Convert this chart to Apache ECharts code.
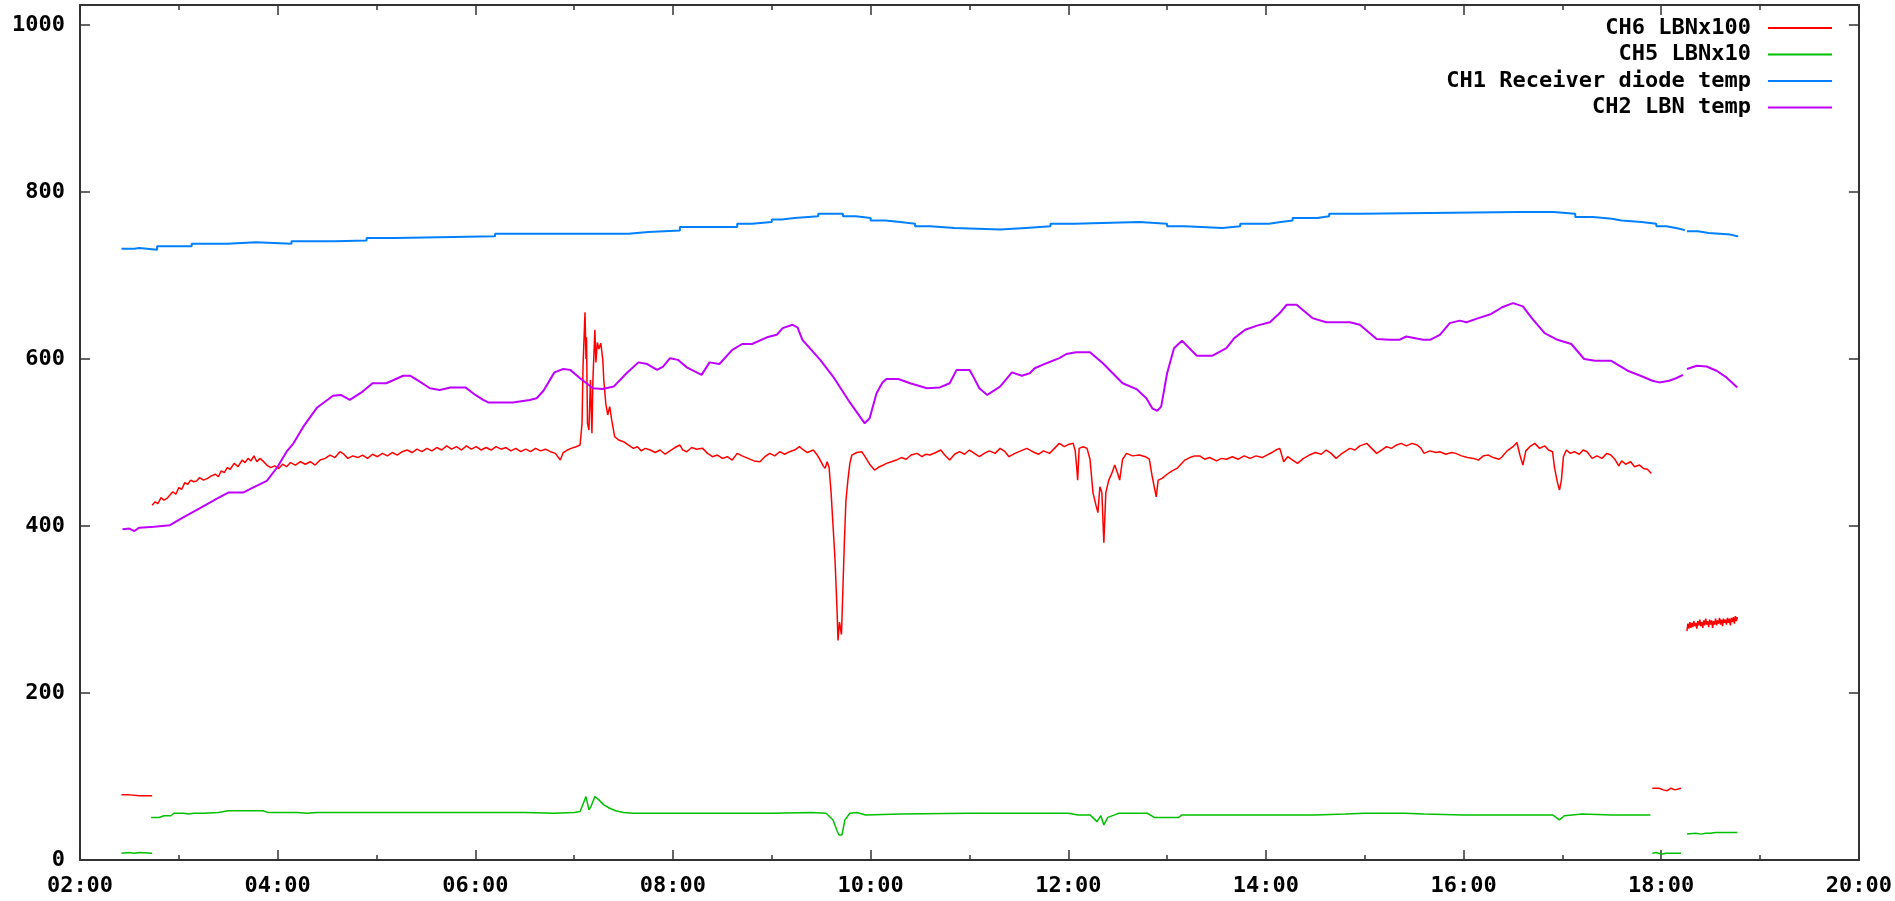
<!DOCTYPE html>
<html><head><meta charset="utf-8">
<script src="https://cdn.jsdelivr.net/npm/echarts@6/dist/echarts.min.js"></script>
<style>html,body{margin:0;padding:0;background:#fff}#c{width:1895px;height:901px}</style>
</head><body><div id="c"></div>
<script>
// ---- data (x = hour of day, y = raw value) ----
const seriesNames = ['CH6 LBNx100', 'CH5 LBNx10', 'CH1 Receiver diode temp', 'CH2 LBN temp'];
const yTickValues = [0, 200, 400, 600, 800, 1000];
const xTickHours = [2, 4, 6, 8, 10, 12, 14, 16, 18, 20];

const ch6Start = [[2.42,78],[2.5,78],[2.6,77],[2.73,77]];
const ch6Main = [[2.73,425],[2.76,429],[2.79,427],[2.82,434],[2.85,431],[2.88,433],[2.91,437],[2.94,441],[2.97,438],[3.0,446],[3.03,444],[3.06,452],[3.09,450],[3.12,455],[3.15,453],[3.18,454],[3.21,458],[3.25,455],[3.29,457],[3.33,460],[3.37,462],[3.4,459],[3.43,466],[3.46,464],[3.49,470],[3.52,468],[3.56,475],[3.6,471],[3.64,479],[3.67,476],[3.7,481],[3.73,478],[3.76,484],[3.79,477],[3.82,481],[3.85,478],[3.89,473],[3.93,470],[3.97,472],[4.01,469],[4.05,474],[4.09,471],[4.13,476],[4.18,473],[4.23,477],[4.28,474],[4.33,477],[4.38,473],[4.43,479],[4.48,481],[4.53,485],[4.58,482],[4.63,489],[4.67,486],[4.71,481],[4.76,484],[4.81,482],[4.86,485],[4.91,481],[4.96,486],[5.01,483],[5.06,487],[5.11,484],[5.16,488],[5.21,485],[5.26,489],[5.31,491],[5.36,488],[5.41,492],[5.46,489],[5.51,493],[5.56,490],[5.61,494],[5.66,491],[5.71,496],[5.76,492],[5.81,495],[5.86,491],[5.91,496],[5.96,492],[6.01,495],[6.06,491],[6.11,494],[6.16,491],[6.21,495],[6.26,492],[6.31,494],[6.36,490],[6.41,493],[6.46,489],[6.51,492],[6.56,489],[6.61,493],[6.66,490],[6.71,492],[6.76,489],[6.81,487],[6.86,479],[6.89,488],[6.93,491],[6.97,493],[7.02,495],[7.06,497],[7.08,523],[7.09,591],[7.11,656],[7.12,600],[7.125,626],[7.135,523],[7.15,515],[7.165,575],[7.18,511],[7.19,575],[7.21,635],[7.22,596],[7.235,620],[7.25,612],[7.27,619],[7.29,599],[7.30,575],[7.32,547],[7.34,533],[7.36,543],[7.38,527],[7.41,507],[7.45,503],[7.5,501],[7.55,497],[7.6,493],[7.64,495],[7.68,490],[7.72,493],[7.77,491],[7.82,488],[7.87,491],[7.92,486],[7.97,490],[8.02,494],[8.07,497],[8.1,491],[8.14,489],[8.19,494],[8.24,492],[8.3,493],[8.35,487],[8.4,483],[8.45,485],[8.5,481],[8.55,483],[8.6,479],[8.65,487],[8.7,484],[8.76,481],[8.82,478],[8.88,477],[8.93,483],[8.98,487],[9.03,484],[9.08,489],[9.13,486],[9.18,489],[9.23,491],[9.28,495],[9.31,492],[9.36,488],[9.42,491],[9.46,485],[9.49,479],[9.52,472],[9.54,469],[9.56,477],[9.58,470],[9.6,440],[9.62,400],[9.64,359],[9.66,300],[9.67,263],[9.685,285],[9.695,287],[9.705,270],[9.72,272],[9.735,383],[9.75,430],[9.77,455],[9.79,475],[9.81,485],[9.86,488],[9.91,489],[9.95,482],[9.99,474],[10.04,467],[10.09,471],[10.13,473],[10.16,475],[10.21,477],[10.26,479],[10.31,482],[10.36,480],[10.41,485],[10.47,487],[10.52,483],[10.56,486],[10.6,485],[10.66,488],[10.71,491],[10.75,485],[10.8,479],[10.85,486],[10.9,489],[10.95,486],[11.0,491],[11.05,487],[11.1,483],[11.15,487],[11.2,490],[11.26,487],[11.31,493],[11.36,489],[11.4,483],[11.46,487],[11.52,490],[11.58,493],[11.64,489],[11.7,486],[11.75,490],[11.81,487],[11.86,493],[11.91,499],[11.96,495],[12.01,498],[12.05,499],[12.07,490],[12.085,471],[12.095,455],[12.11,493],[12.15,495],[12.19,493],[12.22,480],[12.25,440],[12.28,425],[12.3,416],[12.32,447],[12.34,440],[12.36,380],[12.38,440],[12.41,455],[12.44,463],[12.47,473],[12.5,463],[12.52,455],[12.55,480],[12.59,487],[12.65,484],[12.72,485],[12.78,483],[12.82,480],[12.85,459],[12.89,435],[12.91,455],[12.95,457],[13.0,462],[13.05,466],[13.1,469],[13.14,474],[13.18,479],[13.23,482],[13.28,484],[13.33,484],[13.38,480],[13.43,482],[13.5,478],[13.55,481],[13.6,480],[13.66,483],[13.72,480],[13.78,484],[13.84,481],[13.9,484],[13.96,482],[14.01,485],[14.06,488],[14.1,491],[14.14,493],[14.18,477],[14.22,483],[14.27,479],[14.32,475],[14.38,481],[14.44,485],[14.5,488],[14.56,486],[14.61,491],[14.66,487],[14.71,481],[14.76,486],[14.81,490],[14.85,493],[14.9,491],[14.95,496],[15.02,499],[15.07,493],[15.12,487],[15.17,491],[15.22,495],[15.27,493],[15.32,497],[15.37,499],[15.42,496],[15.48,499],[15.53,497],[15.57,493],[15.6,487],[15.66,490],[15.72,488],[15.76,489],[15.82,486],[15.88,488],[15.92,487],[15.98,484],[16.04,482],[16.1,481],[16.15,479],[16.2,484],[16.25,485],[16.3,482],[16.36,480],[16.39,483],[16.44,490],[16.5,495],[16.54,500],[16.57,485],[16.6,473],[16.63,490],[16.67,495],[16.72,499],[16.77,493],[16.82,496],[16.86,491],[16.9,489],[16.92,470],[16.95,452],[16.97,443],[16.99,455],[17.01,483],[17.04,491],[17.08,487],[17.12,489],[17.17,486],[17.21,491],[17.25,489],[17.3,481],[17.35,484],[17.4,481],[17.45,487],[17.49,485],[17.53,480],[17.57,472],[17.6,478],[17.64,474],[17.69,477],[17.73,471],[17.78,473],[17.82,469],[17.86,468],[17.9,463]];
const ch6Mid = [[17.91,86],[17.98,86],[18.02,84],[18.06,83],[18.1,86],[18.14,84],[18.2,86]];
const ch6End = [[18.26,274],[18.27,283],[18.28,277],[18.29,285],[18.30,278],[18.31,284],[18.32,279],[18.33,286],[18.34,280],[18.35,284],[18.36,277],[18.37,286],[18.38,281],[18.39,288],[18.40,280],[18.41,285],[18.42,278],[18.43,287],[18.44,281],[18.45,289],[18.46,282],[18.47,286],[18.48,279],[18.49,288],[18.50,282],[18.51,287],[18.52,278],[18.53,286],[18.54,282],[18.55,289],[18.56,281],[18.57,287],[18.58,283],[18.59,290],[18.60,282],[18.61,288],[18.62,280],[18.63,289],[18.64,284],[18.65,288],[18.66,282],[18.67,290],[18.68,284],[18.69,289],[18.70,281],[18.71,290],[18.72,285],[18.73,291],[18.74,283],[18.75,292],[18.76,286],[18.77,291]];

const ch5Start = [[2.42,8],[2.5,9],[2.55,8],[2.6,9],[2.73,8]];
const ch5Main = [[2.72,51],[2.8,51],[2.85,53],[2.92,53],[2.95,56],[3.05,56],[3.1,55],[3.15,56],[3.25,56],[3.4,57],[3.5,59],[3.85,59],[3.9,57],[4.2,57],[4.3,56],[4.4,57],[5.0,57],[5.5,57],[6.0,57],[6.5,57],[6.8,56],[7.0,57],[7.06,58],[7.09,67],[7.12,76],[7.15,60],[7.17,64],[7.21,76],[7.25,72],[7.3,66],[7.36,62],[7.42,59],[7.5,57],[7.6,56],[8.0,56],[8.5,56],[9.0,56],[9.4,57],[9.55,56],[9.62,48],[9.66,35],[9.68,30],[9.71,30],[9.74,48],[9.79,56],[9.86,57],[9.95,54],[10.3,55],[11.0,56],[11.5,56],[12.0,56],[12.1,54],[12.22,54],[12.29,46],[12.33,53],[12.36,42],[12.4,51],[12.47,54],[12.51,56],[12.67,56],[12.8,56],[12.87,51],[13.12,51],[13.15,54],[14.0,54],[14.5,54],[14.8,55],[15.0,56],[15.4,56],[15.6,55],[16.0,54],[16.5,54],[16.9,54],[16.97,48],[17.02,53],[17.2,55],[17.5,54],[17.89,54]];
const ch5Mid = [[17.91,8],[17.95,9],[18.0,7],[18.05,8],[18.1,8],[18.2,8]];
const ch5End = [[18.26,31],[18.35,32],[18.4,31],[18.45,32],[18.5,32],[18.55,33],[18.77,33]];

const ch1Main = [[2.42,732],[2.55,733],[2.6,731],[2.78,735],[3.13,738],[3.49,740],[3.78,738],[4.14,741],[4.58,742],[4.9,745],[5.2,747],[6.2,750],[7.55,752],[7.75,754],[8.07,758],[8.65,762],[8.8,764],[9.0,767],[9.1,769],[9.23,771],[9.47,774],[9.72,771],[9.85,769],[10.0,766],[10.15,764],[10.3,762],[10.45,759],[10.6,757],[10.85,755],[11.31,757],[11.57,759],[11.82,762],[12.06,764],[12.72,762],[13.0,759],[13.18,757],[13.56,759],[13.74,762],[14.03,764],[14.15,766],[14.27,769],[14.52,771],[14.64,774],[14.96,776],[16.56,776],[16.91,774],[17.13,770],[17.31,768],[17.5,766],[17.6,764],[17.8,762],[17.95,759],[18.05,757],[18.15,755],[18.22,754]];
const ch1End = [[18.26,753],[18.37,751],[18.48,749],[18.7,747],[18.77,746]];

const ch2Main = [[2.43,396],[2.5,397],[2.55,394],[2.6,398],[2.75,399],[2.91,401],[3.04,410],[3.21,421],[3.39,433],[3.5,440],[3.65,440],[3.75,446],[3.89,454],[4.0,471],[4.09,489],[4.16,499],[4.26,519],[4.4,542],[4.56,556],[4.64,557],[4.73,551],[4.86,561],[4.96,571],[5.1,571],[5.27,580],[5.34,580],[5.45,572],[5.54,565],[5.64,563],[5.75,566],[5.9,566],[6.0,557],[6.08,551],[6.13,548],[6.38,548],[6.55,551],[6.62,553],[6.69,562],[6.8,584],[6.89,588],[6.96,587],[7.06,577],[7.19,565],[7.29,564],[7.4,567],[7.53,583],[7.65,596],[7.74,594],[7.84,587],[7.9,591],[7.97,601],[8.05,599],[8.14,590],[8.29,581],[8.37,596],[8.47,594],[8.6,611],[8.7,618],[8.8,618],[8.95,626],[9.05,629],[9.11,637],[9.21,641],[9.26,638],[9.31,623],[9.49,599],[9.62,579],[9.79,548],[9.94,523],[9.99,529],[10.06,559],[10.12,572],[10.16,576],[10.28,576],[10.4,571],[10.57,565],[10.7,566],[10.8,571],[10.87,587],[11.0,587],[11.03,581],[11.1,565],[11.18,557],[11.31,567],[11.43,584],[11.53,580],[11.61,583],[11.66,589],[11.78,595],[11.91,601],[11.98,606],[12.08,608],[12.22,608],[12.35,595],[12.45,583],[12.55,571],[12.69,564],[12.79,553],[12.85,541],[12.9,538],[12.94,543],[13.0,583],[13.07,613],[13.15,622],[13.3,604],[13.46,604],[13.6,613],[13.68,625],[13.79,635],[13.91,640],[14.04,644],[14.14,655],[14.21,665],[14.31,665],[14.47,649],[14.61,644],[14.85,644],[14.95,641],[15.12,624],[15.25,623],[15.35,623],[15.42,627],[15.59,623],[15.66,623],[15.76,629],[15.86,643],[15.96,646],[16.03,644],[16.15,649],[16.28,654],[16.39,662],[16.5,667],[16.6,663],[16.69,649],[16.82,631],[16.95,623],[17.09,618],[17.22,600],[17.33,598],[17.49,598],[17.66,586],[17.79,580],[17.91,574],[17.98,572],[18.08,574],[18.15,577],[18.22,581]];
const ch2End = [[18.26,588],[18.36,592],[18.46,591],[18.56,586],[18.66,578],[18.77,566]];

// ---- helpers ----
function joinSegments(segs) {
  const out = [];
  segs.forEach((s, i) => {
    if (i > 0) out.push([(out[out.length - 1][0] + s[0][0]) / 2, null]);
    s.forEach(p => out.push(p));
  });
  return out;
}
const FONT = 'DejaVu Sans Mono';
const AXIS_COLOR = '#333';
const labelStyle = { fontFamily: FONT, fontSize: 22, fontWeight: 'bold', color: '#000' };
const pad2 = h => (h < 10 ? '0' : '') + h + ':00';

function xAxisDef(pos, showLabel) {
  return {
    type: 'value', position: pos, min: 2, max: 20, interval: 2,
    axisLine: { show: true, onZero: false, lineStyle: { color: AXIS_COLOR, width: 2 } },
    axisTick: { show: true, inside: true, length: 10, lineStyle: { color: AXIS_COLOR, width: 1.5 } },
    minorTick: { show: true, splitNumber: 2, length: 5, lineStyle: { color: AXIS_COLOR, width: 1.5 } },
    splitLine: { show: false },
    axisLabel: Object.assign({ show: showLabel, margin: 15, formatter: v => xTickHours.includes(v) ? pad2(v) : '' }, labelStyle)
  };
}
function yAxisDef(pos, showLabel) {
  return {
    type: 'value', position: pos, min: 0, max: 1024, interval: 200,
    axisLine: { show: true, onZero: false, lineStyle: { color: AXIS_COLOR, width: 2 } },
    axisTick: { show: true, inside: true, length: 10, lineStyle: { color: AXIS_COLOR, width: 1.5 } },
    splitLine: { show: false },
    axisLabel: Object.assign({ show: showLabel, margin: 15, formatter: v => yTickValues.includes(v) ? String(v) : '' }, labelStyle)
  };
}
function lineSeries(name, color, data, width, step) {
  return {
    name, type: 'line', data, color, step: step || false,
    xAxisIndex: 0, yAxisIndex: 0,
    showSymbol: false, symbol: 'none', connectNulls: false,
    lineStyle: { color, width }, emphasis: { disabled: true }
  };
}

const chart = echarts.init(document.getElementById('c'), null, { renderer: 'canvas' });
chart.setOption({
  animation: false,
  backgroundColor: '#fff',
  grid: { left: 80, right: 36, top: 5, bottom: 41 },
  xAxis: [xAxisDef('bottom', true), xAxisDef('top', false)],
  yAxis: [yAxisDef('left', true), yAxisDef('right', false)],
  legend: {
    data: seriesNames, orient: 'vertical', right: 58, top: 12, align: 'right',
    icon: 'rect', itemWidth: 64, itemHeight: 2, itemGap: 4.5,
    selectedMode: false,
    textStyle: Object.assign({ padding: [0, 12, 0, 0] }, labelStyle)
  },
  series: [
    lineSeries(seriesNames[0], '#ff0000', joinSegments([ch6Start, ch6Main, ch6Mid, ch6End]), 1.5),
    lineSeries(seriesNames[1], '#00c000', joinSegments([ch5Start, ch5Main, ch5Mid, ch5End]), 1.5),
    lineSeries(seriesNames[2], '#0080ff', joinSegments([ch1Main, ch1End]), 2, 'end'),
    lineSeries(seriesNames[3], '#c000ff', joinSegments([ch2Main, ch2End]), 2)
  ]
});
</script></body></html>
